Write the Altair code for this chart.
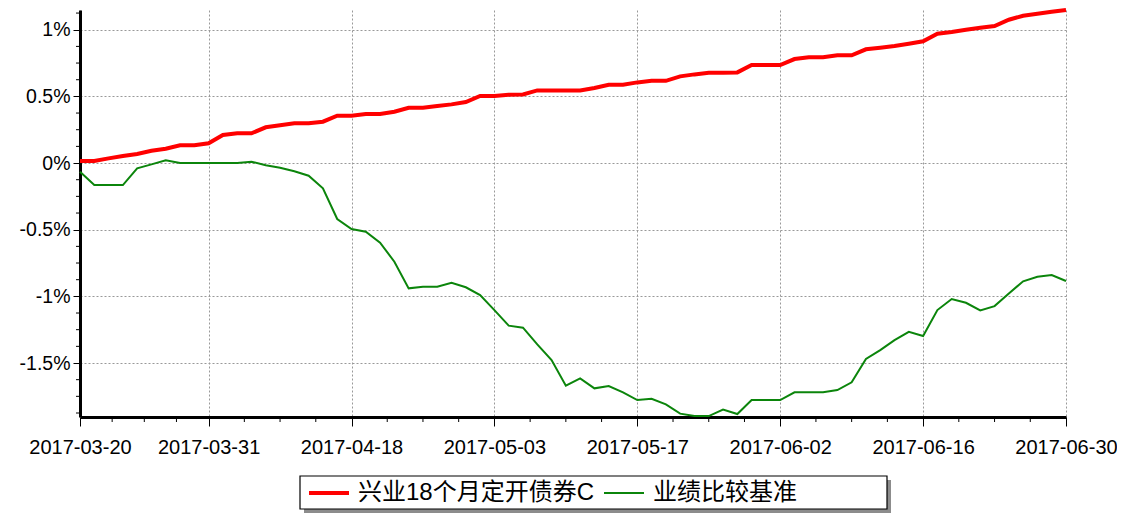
import altair as alt
import pandas as pd

# Trading days 2017-03-20 .. 2017-06-30 (weekends and exchange holidays removed)
holidays = ["2017-04-03", "2017-04-04", "2017-05-01", "2017-05-29", "2017-05-30"]
dates = [d.strftime("%Y-%m-%d") for d in pd.bdate_range("2017-03-20", "2017-06-30")
         if d.strftime("%Y-%m-%d") not in holidays]

series_names = ["兴业18个月定开债券C", "业绩比较基准"]

fund = [0.015, 0.015, 0.035, 0.053, 0.068, 0.092, 0.107, 0.133, 0.133, 0.148,
        0.21, 0.223, 0.223, 0.268, 0.283, 0.298, 0.298, 0.31, 0.355, 0.355,
        0.368, 0.368, 0.385, 0.415, 0.415, 0.428, 0.44, 0.458, 0.503, 0.503,
        0.512, 0.515, 0.545, 0.545, 0.545, 0.545, 0.563, 0.587, 0.587, 0.605,
        0.617, 0.617, 0.65, 0.665, 0.677, 0.677, 0.68, 0.735, 0.735, 0.735,
        0.78, 0.793, 0.793, 0.808, 0.808, 0.853, 0.865, 0.878, 0.895, 0.913,
        0.97, 0.983, 1.0, 1.015, 1.028, 1.075, 1.105, 1.12, 1.135, 1.148]

bench = [-0.065, -0.165, -0.165, -0.165, -0.04, -0.01, 0.02, 0.0, 0.0, 0.0,
         0.0, 0.0, 0.01, -0.017, -0.035, -0.062, -0.095, -0.19, -0.42, -0.495,
         -0.515, -0.598, -0.74, -0.94, -0.928, -0.928, -0.898, -0.932, -0.99, -1.103,
         -1.22, -1.235, -1.36, -1.478, -1.67, -1.615, -1.69, -1.673, -1.72, -1.778,
         -1.768, -1.81, -1.88, -1.898, -1.898, -1.85, -1.883, -1.778, -1.778, -1.778,
         -1.72, -1.72, -1.72, -1.703, -1.645, -1.47, -1.403, -1.328, -1.266, -1.298,
         -1.103, -1.02, -1.048, -1.105, -1.073, -0.978, -0.887, -0.853, -0.84, -0.885]

x_major = [0, 9, 19, 29, 39, 49, 59, 69]
x_minor = [2.25, 4.5, 6.75] + [9 + 2.5 * k for k in range(1, 25) if k % 4 != 0]
y_major = [-1.5, -1, -0.5, 0, 0.5, 1]
y_minor = [-1.875 + 0.125 * k for k in range(0, 25) if (k % 4) != 3]

rows = []
for i, d in enumerate(dates):
    rows.append({"idx": i, "date": d, "series": series_names[0], "value": fund[i]})
    rows.append({"idx": i, "date": d, "series": series_names[1], "value": bench[i]})
df = pd.DataFrame(rows)

label_expr = " : ".join(f"datum.value == {v} ? '{dates[v]}'" for v in x_major) + " : ''"

xscale = alt.Scale(domain=[0, 69], nice=False, zero=False)
yscale = alt.Scale(domain=[-1.905, 1.148], nice=False, zero=False)

lines = alt.Chart(df).mark_line(interpolate="linear").encode(
    x=alt.X("idx:Q", scale=xscale,
            axis=alt.Axis(values=x_major, labelExpr=label_expr, title=None,
                          tickSize=9, labelPadding=11, labelFontSize=20,
                          grid=True, gridDash=[2, 2], gridColor="#999999",
                          domainColor="black", domainWidth=3, tickColor="black",
                          labelOverlap=False, labelFlush=False)),
    y=alt.Y("value:Q", scale=yscale,
            axis=alt.Axis(values=y_major, labelExpr="datum.value + '%'", title=None,
                          tickSize=7, labelPadding=3, labelFontSize=19.5,
                          grid=True, gridDash=[2, 2], gridColor="#999999",
                          domainColor="black", domainWidth=3, tickColor="black")),
    color=alt.Color("series:N", scale=alt.Scale(domain=series_names, range=["#ff0000", "#0b850b"]),
                    legend=alt.Legend(title=None)),
    strokeWidth=alt.StrokeWidth("series:N", scale=alt.Scale(domain=series_names, range=[4, 2]),
                                legend=alt.Legend(title=None)),
    order=alt.Order("idx:Q"),
)

xminor_df = pd.DataFrame({"m": x_minor})
xminor = alt.Chart(xminor_df).mark_rule(color="black", strokeWidth=1).encode(
    x=alt.X("m:Q", scale=xscale), y=alt.value(407), y2=alt.value(412))

yminor_df = pd.DataFrame({"v": y_minor})
yminor = alt.Chart(yminor_df).mark_rule(color="black", strokeWidth=1).encode(
    y=alt.Y("v:Q", scale=yscale), x=alt.value(-4), x2=alt.value(0))

# legend frame with drop shadow (decoration behind the legend entries)
frame_df = pd.DataFrame({"a": [0]})
shadow = alt.Chart(frame_df).mark_rect(color="#8c8c8c").encode(
    x=alt.value(224), x2=alt.value(811), y=alt.value(470), y2=alt.value(503))
frame = alt.Chart(frame_df).mark_rect(fill="white", stroke="black", strokeWidth=1.2).encode(
    x=alt.value(220), x2=alt.value(807), y=alt.value(466), y2=alt.value(499))

chart = alt.layer(shadow, frame, xminor, yminor, lines).properties(
    width=986, height=407,
    autosize=alt.AutoSizeParams(type="none"),
    padding={"left": 72, "top": 2, "right": 51, "bottom": 96},
).configure_view(stroke=None).configure_axis(
    labelFont="Liberation Sans", labelColor="black",
).configure_legend(
    orient="none", legendX=220, legendY=465, direction="horizontal", columns=2,
    padding=6,
    symbolType="M-2,0H2", symbolSize=400, symbolStrokeWidth=4,
    labelFont="Liberation Sans, Noto Sans CJK SC", labelFontSize=24, labelColor="black",
    labelLimit=600, columnPadding=5, symbolOffset=11, labelOffset=17,
)

chart.save("out.html", embed_options={"renderer": "svg", "actions": False})
